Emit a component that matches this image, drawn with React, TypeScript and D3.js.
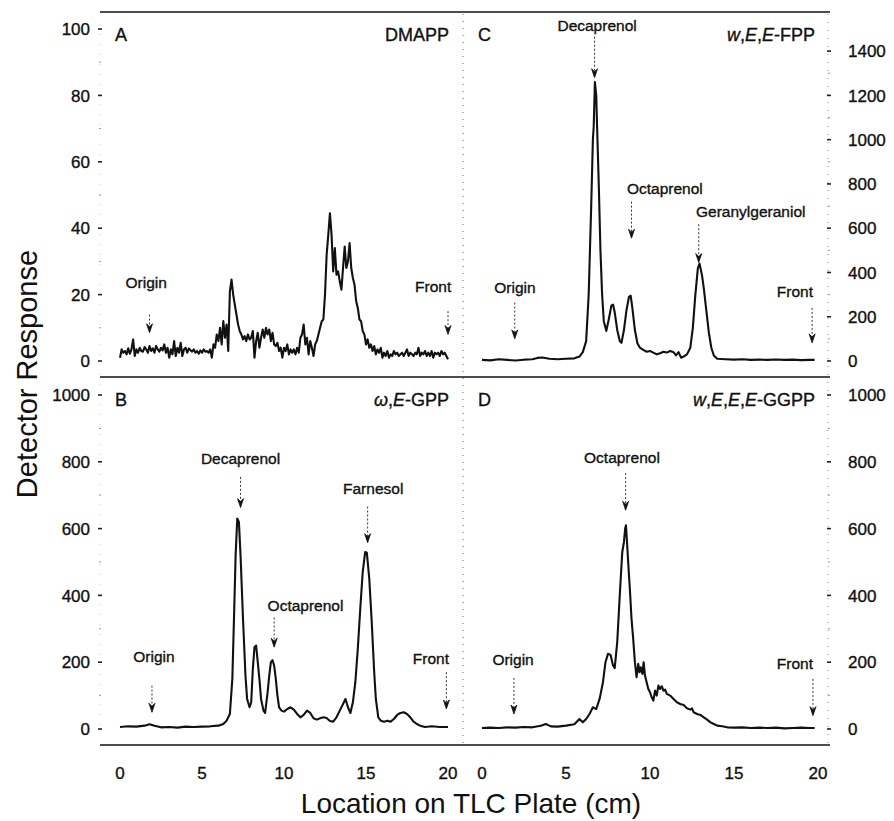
import * as d3 from 'd3';

const FONT = '"Liberation Sans", Arial, Helvetica, sans-serif';

// tick values
const xTicks = [0, 5, 10, 15, 20];
const yTicksA = [0, 20, 40, 60, 80, 100];
const yTicksB = [0, 200, 400, 600, 800, 1000];
const yTicksC = [0, 200, 400, 600, 800, 1000, 1200, 1400];
const yTicksD = [0, 200, 400, 600, 800, 1000];

// traces: [location cm, detector response]
const traceA: [number, number][] = [
  [0, 1], [0.1, 3.5], [0.2, 2.5], [0.3, 3], [0.4, 2], [0.5, 3.8], [0.6, 2.2], [0.7, 3.5], [0.8, 6.5], [0.9, 1.5],
  [1.0, 3.5], [1.1, 2.5], [1.2, 4], [1.3, 3], [1.4, 2.8], [1.5, 4.2], [1.6, 3.5], [1.7, 2.5], [1.8, 4.5], [1.9, 3],
  [2.0, 3.8], [2.1, 2.5], [2.2, 4.5], [2.3, 3.5], [2.4, 2.8], [2.5, 4], [2.6, 3.2], [2.7, 5], [2.8, 2.5], [2.9, 4],
  [3.0, 1], [3.1, 3.5], [3.2, 2], [3.3, 6], [3.4, 1.5], [3.5, 4], [3.6, 2.5], [3.7, 5.5], [3.8, 1.5], [3.9, 3.5],
  [4.0, 4], [4.1, 2.5], [4.2, 3.8], [4.3, 3.2], [4.4, 2.8], [4.5, 3.5], [4.6, 2.5], [4.7, 3], [4.8, 2.2], [4.9, 3.2],
  [5.0, 2.5], [5.1, 3.5], [5.2, 2.8], [5.3, 3], [5.4, 2.5], [5.5, 3.5], [5.6, 1], [5.7, 5], [5.8, 4], [5.9, 8],
  [6.0, 6], [6.1, 10], [6.2, 5], [6.3, 12], [6.4, 7], [6.5, 11], [6.6, 3], [6.7, 21], [6.8, 24.5], [6.9, 20],
  [7.0, 17], [7.1, 14], [7.2, 11], [7.3, 9], [7.4, 8], [7.5, 6.5], [7.6, 7.5], [7.7, 6], [7.8, 8], [7.9, 6.5],
  [8.0, 7], [8.1, 9], [8.2, 1], [8.3, 6], [8.4, 8.5], [8.5, 4], [8.6, 7], [8.7, 9.5], [8.8, 7], [8.9, 10],
  [9.0, 8], [9.1, 9.5], [9.2, 6], [9.3, 8.5], [9.4, 5], [9.5, 4.5], [9.6, 5.5], [9.7, 3], [9.8, 4], [9.9, 1],
  [10.0, 4], [10.1, 3], [10.2, 5], [10.3, 2], [10.4, 3.5], [10.5, 2.5], [10.6, 3.5], [10.7, 2], [10.8, 4], [10.9, 2.5],
  [11.0, 7], [11.1, 8], [11.2, 11], [11.3, 5], [11.4, 7], [11.5, 2], [11.6, 6], [11.7, 4], [11.8, 1.5], [11.9, 5],
  [12.0, 6], [12.1, 8], [12.2, 10], [12.3, 12], [12.4, 12.5], [12.5, 20], [12.6, 32], [12.7, 38], [12.8, 44.5], [12.9, 38],
  [13.0, 27], [13.1, 34], [13.2, 26], [13.3, 27], [13.4, 24], [13.5, 21.5], [13.6, 28], [13.7, 34.5], [13.8, 28], [13.9, 30],
  [14.0, 35.5], [14.1, 28], [14.2, 25], [14.3, 23], [14.4, 18], [14.5, 16], [14.6, 12.5], [14.7, 12], [14.8, 9], [14.9, 8],
  [15.0, 5], [15.1, 6.5], [15.2, 4], [15.3, 5], [15.4, 3], [15.5, 4.5], [15.6, 2], [15.7, 3.5], [15.8, 2.5], [15.9, 4],
  [16.0, 1], [16.1, 2.5], [16.2, 1.5], [16.3, 3], [16.4, 1], [16.5, 2], [16.6, 1.5], [16.7, 3], [16.8, 2], [16.9, 2.5],
  [17.0, 1.5], [17.1, 2], [17.2, 2.5], [17.3, 1.5], [17.4, 2.5], [17.5, 3.5], [17.6, 1.5], [17.7, 2.5], [17.8, 2], [17.9, 1.5],
  [18.0, 2.5], [18.1, 2], [18.2, 4], [18.3, 1.5], [18.4, 2.5], [18.5, 2], [18.6, 3], [18.7, 1.5], [18.8, 2.5], [18.9, 1.5],
  [19.0, 3], [19.1, 1], [19.2, 2.5], [19.3, 2], [19.4, 2.5], [19.5, 1.5], [19.6, 3], [19.7, 2], [19.8, 2.5], [19.9, 1.5],
  [20.0, 0.5],
];

const traceB: [number, number][] = [
  [0, 6], [0.5, 8], [1, 7], [1.5, 10], [1.8, 14], [2.1, 10], [2.5, 5], [3, 6], [3.5, 4], [4, 7], [4.5, 6], [5, 7],
  [5.5, 8], [6, 10], [6.3, 15], [6.5, 25], [6.7, 45], [6.85, 150], [6.95, 330], [7.05, 520], [7.15, 630], [7.25, 620],
  [7.35, 520], [7.5, 330], [7.65, 160], [7.75, 90], [7.9, 65], [8.0, 80], [8.1, 180], [8.2, 245], [8.3, 250], [8.4, 200],
  [8.5, 150], [8.6, 90], [8.75, 55], [8.85, 48], [9.0, 110], [9.1, 160], [9.2, 200], [9.3, 206], [9.4, 190], [9.5, 150],
  [9.6, 100], [9.7, 65], [9.85, 55], [10.0, 52], [10.2, 60], [10.4, 65], [10.6, 58], [10.8, 45], [11.0, 35], [11.2, 42],
  [11.4, 55], [11.6, 48], [11.8, 32], [12.0, 28], [12.2, 32], [12.4, 35], [12.6, 33], [12.8, 24], [13.0, 22], [13.2, 35],
  [13.4, 55], [13.6, 75], [13.75, 90], [13.9, 65], [14.05, 48], [14.2, 80], [14.35, 140], [14.5, 240], [14.65, 360],
  [14.8, 470], [14.95, 530], [15.05, 528], [15.2, 450], [15.35, 320], [15.5, 170], [15.6, 90], [15.75, 35], [15.9, 25],
  [16.1, 22], [16.3, 25], [16.5, 22], [16.7, 30], [16.9, 42], [17.1, 48], [17.3, 50], [17.5, 45], [17.7, 35], [17.9, 22],
  [18.1, 15], [18.3, 10], [18.6, 6], [19, 8], [19.5, 6], [20, 6],
];

const traceC: [number, number][] = [
  [0, 5], [0.5, 3], [1, 8], [1.5, 5], [2, 2], [2.5, 6], [3, 8], [3.3, 14], [3.6, 16], [4, 10], [4.5, 8], [5, 10],
  [5.5, 12], [5.8, 20], [6.0, 40], [6.2, 90], [6.35, 300], [6.5, 700], [6.6, 1000], [6.65, 1060], [6.72, 1260],
  [6.8, 1200], [6.85, 1060], [6.95, 800], [7.05, 500], [7.15, 300], [7.25, 180], [7.4, 136], [7.55, 190], [7.7, 250],
  [7.8, 255], [7.9, 220], [8.05, 140], [8.2, 90], [8.3, 82], [8.45, 140], [8.6, 230], [8.75, 290], [8.85, 295],
  [8.95, 240], [9.1, 140], [9.25, 80], [9.4, 60], [9.6, 50], [9.8, 42], [10.0, 45], [10.2, 38], [10.4, 30], [10.6, 35],
  [10.8, 42], [11.0, 38], [11.2, 45], [11.4, 40], [11.55, 25], [11.7, 40], [11.85, 15], [12.0, 20], [12.2, 30],
  [12.4, 60], [12.55, 150], [12.7, 300], [12.85, 420], [12.95, 440], [13.1, 385], [13.2, 330], [13.35, 230],
  [13.5, 130], [13.65, 60], [13.8, 25], [14.0, 10], [14.5, 8], [15, 6], [15.5, 8], [16, 5], [16.5, 6], [17, 5],
  [17.5, 7], [18, 5], [18.5, 6], [19, 4], [19.5, 5], [19.8, 5],
];

const traceD: [number, number][] = [
  [0, 3], [0.5, 4], [1, 3], [1.5, 5], [2, 4], [2.5, 6], [3, 5], [3.5, 10], [3.8, 15], [4.1, 8], [4.5, 7], [5, 10],
  [5.5, 14], [5.8, 30], [6.0, 20], [6.2, 30], [6.4, 45], [6.6, 65], [6.8, 60], [7.0, 90], [7.2, 140], [7.35, 200],
  [7.5, 225], [7.65, 222], [7.8, 190], [7.9, 182], [8.05, 260], [8.2, 400], [8.35, 530], [8.45, 560], [8.52, 600],
  [8.57, 610], [8.62, 570], [8.7, 500], [8.8, 420], [8.9, 330], [9.0, 270], [9.1, 200], [9.2, 155], [9.3, 195],
  [9.38, 170], [9.45, 185], [9.55, 165], [9.62, 200], [9.7, 160], [9.8, 140], [9.9, 120], [10.0, 110], [10.1, 95],
  [10.2, 85], [10.3, 115], [10.4, 100], [10.5, 130], [10.6, 120], [10.7, 128], [10.8, 115], [10.9, 118], [11.0, 105],
  [11.2, 100], [11.4, 90], [11.6, 80], [11.8, 75], [12.0, 72], [12.2, 62], [12.4, 58], [12.5, 62], [12.6, 50],
  [12.8, 45], [13.0, 42], [13.2, 35], [13.4, 28], [13.6, 20], [13.8, 15], [14.0, 10], [14.3, 8], [14.6, 5], [15, 4],
  [15.5, 5], [16, 3], [16.5, 4], [17, 3], [17.5, 4], [18, 2], [18.5, 3], [19, 4], [19.5, 3], [19.8, 3],
];

// panel titles: [text, italic]
type Seg = [string, boolean];
const titleA: Seg[] = [['DMAPP', false]];
const titleB: Seg[] = [['ω', true], [',', false], ['E', true], ['-GPP', false]];
const titleC: Seg[] = [['w', true], [',', false], ['E', true], [',', false], ['E', true], ['-FPP', false]];
const titleD: Seg[] = [['w', true], [',', false], ['E', true], [',', false], ['E', true], [',', false], ['E', true], ['-GGPP', false]];

// annotations: text, arrow x, label x, anchor, label y, arrow top, arrow tip
type Note = [string, number, number, string, number, number, number];
const notesA: Note[] = [
  ['Origin', 1.8, 1.6, 'middle', 22, 14, 8.5],
  ['Front', 20, 20.2, 'end', 20.7, 15, 8],
];
const notesB: Note[] = [
  ['Decaprenol', 7.35, 7.35, 'middle', 794, 755, 663],
  ['Octaprenol', 9.4, 9.0, 'start', 352, 334, 245],
  ['Farnesol', 15.1, 13.6, 'start', 704, 666, 558],
  ['Origin', 1.95, 2.07, 'middle', 200, 130, 50],
  ['Front', 19.9, 20.06, 'end', 194, 170, 60],
];
const notesC: Note[] = [
  ['Decaprenol', 6.7, 6.85, 'middle', 1490, 1465, 1280],
  ['Octaprenol', 8.9, 8.63, 'start', 755, 720, 555],
  ['Geranylgeraniol', 12.9, 12.74, 'start', 650, 618, 445],
  ['Origin', 1.95, 1.96, 'middle', 305, 264, 100],
  ['Front', 19.65, 19.7, 'end', 287, 240, 82],
];
const notesD: Note[] = [
  ['Octaprenol', 8.55, 8.33, 'middle', 796, 766, 655],
  ['Origin', 1.9, 1.85, 'middle', 192, 153, 45],
  ['Front', 19.7, 19.7, 'end', 180, 150, 40],
];

const panels = [
  { letter: 'A', title: titleA, trace: traceA, notes: notesA, yMax: 100, ticks: yTicksA, side: 'left',
    frame: [100, 463, 12, 377], xr: [120, 448], yr: [361, 29] },
  { letter: 'B', title: titleB, trace: traceB, notes: notesB, yMax: 1000, ticks: yTicksB, side: 'left',
    frame: [100, 463, 377, 745], xr: [120, 448], yr: [729, 395] },
  { letter: 'C', title: titleC, trace: traceC, notes: notesC, yMax: 1500, ticks: yTicksC, side: 'right',
    frame: [463, 829, 12, 377], xr: [482, 818], yr: [361, 29] },
  { letter: 'D', title: titleD, trace: traceD, notes: notesD, yMax: 1000, ticks: yTicksD, side: 'right',
    frame: [463, 829, 377, 745], xr: [482, 818], yr: [729, 395] },
];

// slight stroke on text to mimic the heavier scanned type
const ink = { stroke: '#111', strokeWidth: 0.35 };

function Panel({ p }: { p: any }) {
  const x = d3.scaleLinear().domain([0, 20]).range(p.xr);
  const y = d3.scaleLinear().domain([0, p.yMax]).range(p.yr);
  const line = d3.line<[number, number]>().x(d => x(d[0])).y(d => y(d[1]));
  const [l, r, t] = p.frame;
  const axisX = p.side === 'left' ? l : r;

  return (
    <g>
      {/* y ticks */}
      {p.ticks.map((v: number) => (
        <g key={v}>
          <line x1={axisX - 2} x2={axisX + 2} y1={y(v)} y2={y(v)} stroke="#222" strokeWidth={1.6} />
          <text
            x={p.side === 'left' ? axisX - 10 : axisX + 19}
            y={y(v)}
            dy="0.36em"
            textAnchor={p.side === 'left' ? 'end' : 'start'}
            fontSize={17}
            {...ink}
          >{v}</text>
        </g>
      ))}
      {/* minor ticks */}
      {p.ticks.slice(1).map((v: number, i: number) => (
        <line key={'m' + v} x1={axisX - 1} x2={axisX + 1} y1={y((v + p.ticks[i]) / 2)} y2={y((v + p.ticks[i]) / 2)}
          stroke="#999" strokeWidth={1} />
      ))}

      <path d={line(p.trace) || ''} fill="none" stroke="#111" strokeWidth={2.1} strokeLinejoin="round" />

      {/* annotations */}
      {p.notes.map((n: Note) => {
        const [text, ax, lx, anchor, ly, a1, a2] = n;
        const px = x(ax);
        const tip = y(a2);
        return (
          <g key={text}>
            <text x={x(lx)} y={y(ly)} textAnchor={anchor} fontSize={15.5} {...ink}>{text}</text>
            <line x1={px} x2={px} y1={y(a1)} y2={tip - 5} stroke="#333" strokeWidth={1} strokeDasharray="2 2" />
            <path d={`M${px - 3},${tip - 9} L${px},${tip} L${px + 3},${tip - 9} L${px},${tip - 6} Z`}
              fill="#111" stroke="#111" strokeWidth={0.8} />
          </g>
        );
      })}

      {/* panel letter and title */}
      <text x={l + 15} y={t + 29} fontSize={18} {...ink}>{p.letter}</text>
      <text x={r - 14} y={t + 29} textAnchor="end" fontSize={18} {...ink}>
        {p.title.map((s: Seg, i: number) => (
          <tspan key={i} fontStyle={s[1] ? 'italic' : 'normal'}>{s[0]}</tspan>
        ))}
      </text>
    </g>
  );
}

export default function App() {
  const xl = d3.scaleLinear().domain([0, 20]).range([120, 448]);
  const xr = d3.scaleLinear().domain([0, 20]).range([482, 818]);

  return (
    <svg width={894} height={821} viewBox="0 0 894 821"
      style={{ position: 'absolute', left: 0, top: 0, background: '#fff' }}
      fontFamily={FONT} fill="#111">
      <rect width={894} height={821} fill="#fff" />
      {/* frame */}
      <line x1={100} x2={830} y1={12} y2={12} stroke="#111" strokeWidth={1.6} />
      <line x1={100} x2={830} y1={377} y2={377} stroke="#111" strokeWidth={1.6} />
      <line x1={100} x2={830} y1={745} y2={745} stroke="#111" strokeWidth={1.6} />
      <line x1={463} x2={463} y1={14} y2={743} stroke="#666" strokeWidth={1} strokeDasharray="1 6" />
      <line x1={828} x2={828} y1={14} y2={743} stroke="#888" strokeWidth={1} strokeDasharray="1 7" />
      <line x1={100} x2={100} y1={14} y2={743} stroke="#ccc" strokeWidth={1} strokeDasharray="1 9" />

      {panels.map(p => <Panel key={p.letter} p={p} />)}

      {/* x tick labels */}
      {xTicks.map(v => (
        <text key={'l' + v} x={xl(v)} y={779} textAnchor="middle" fontSize={17} {...ink}>{v}</text>
      ))}
      {xTicks.map(v => (
        <text key={'r' + v} x={xr(v)} y={779} textAnchor="middle" fontSize={17} {...ink}>{v}</text>
      ))}

      {/* axis titles */}
      <text x={471} y={813} textAnchor="middle" fontSize={28}>Location on TLC Plate (cm)</text>
      <text transform="translate(37,374) rotate(-90)" textAnchor="middle" fontSize={29}>Detector Response</text>
    </svg>
  );
}
